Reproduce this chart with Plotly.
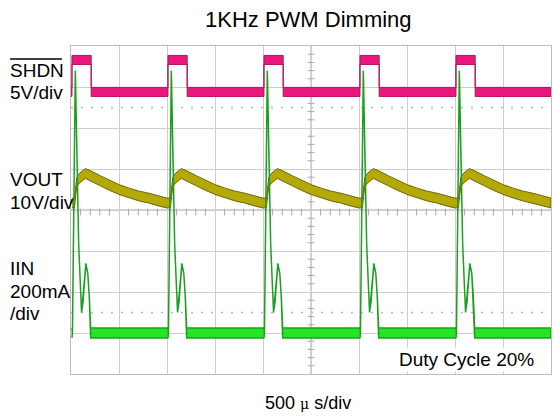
import plotly.graph_objects as go

# ---------------- data ----------------
# time base: 500 us/div, 10 divisions -> 0..5 ms
PULSE_START_MS = [0.01, 1.01, 2.01, 3.01, 4.01]
PULSE_WIDTH_MS = 0.20
T_END_MS = 5.0

# SHDN (5 V/div)
SHDN_SCALE_V = 5.0
SHDN_OFFSET_DIV = 2.88
SHDN_LOW_V = 0.0
SHDN_HIGH_V = 3.9
SHDN_NOISE_V = 0.55

# VOUT (10 V/div) - one PWM period, time relative to SHDN rising edge
VOUT_SCALE_V = 10.0
VOUT_OFFSET_DIV = 0.0
VOUT_T_REL = [0.0, 0.025, 0.05, 0.08, 0.14, 0.20, 0.30, 0.40, 0.50, 0.60, 0.70, 0.80, 0.90, 0.99]
VOUT_V     = [1.7, 1.7,   6.8,  7.8,  8.9,  8.3,  7.1,  5.9,  4.9,  4.1,  3.4,  2.9,  2.2,  1.7]
VOUT_NOISE = [1.2, 1.2,   1.1,  1.2,  1.2,  1.2,  1.2,  1.2,  1.2,  1.2,  1.2,  1.2,  1.2,  1.2]

# IIN (200 mA/div) - one PWM period
IIN_SCALE_MA = 200.0
IIN_OFFSET_DIV = -3.0
IIN_T_REL = [0.0, 0.005, 0.035, 0.05, 0.07, 0.10, 0.115, 0.145, 0.165, 0.18, 0.195, 0.99]
IIN_MA    = [0,   0,     1280,  900,  430,  100,  150,   340,   290,   180,  0,     0]
IIN_NOISE = [24,  0,     0,     0,    0,    0,    0,     0,     0,     0,    24,    24]

TITLE = "1KHz PWM Dimming"
TIME_LABEL = "500 <span style='font-family:DejaVu Serif;font-size:14px'>μ</span> s/div"
NOTE = "Duty Cycle 20%"


def periodic(t_rel, vals, noise):
    t, v, n = [], [], []
    for s in PULSE_START_MS:
        for tr, vv, nn in zip(t_rel, vals, noise):
            tt = s + tr
            if tt <= T_END_MS + 1e-9:
                t.append(tt); v.append(vv); n.append(nn)
    return t, v, n


def shdn_wave():
    t, v = [0.0], [SHDN_LOW_V]
    for s in PULSE_START_MS:
        t += [s, s, s + PULSE_WIDTH_MS, s + PULSE_WIDTH_MS]
        v += [SHDN_LOW_V, SHDN_HIGH_V, SHDN_HIGH_V, SHDN_LOW_V]
    t.append(T_END_MS); v.append(SHDN_LOW_V)
    return t, v, [SHDN_NOISE_V] * len(t)


def band(t, v, n, scale, offset):
    up = [offset + (a + b) / scale for a, b in zip(v, n)]
    lo = [offset + (a - b) / scale for a, b in zip(v, n)]
    return t + t[::-1], up + lo[::-1]


fig = go.Figure()

# dotted level lines
for yl in (2.5, -2.5):
    fig.add_shape(type="line", x0=0, x1=5, y0=yl, y1=yl, xref="x", yref="y",
                  line=dict(color="#b5b5b5", width=1.5, dash="2px,8px"), layer="below")
# center lines
fig.add_shape(type="line", x0=2.5, x1=2.5, y0=-4, y1=4, line=dict(color="#aaaaaa", width=1), layer="below")
fig.add_shape(type="line", x0=0, x1=5, y0=0, y1=0, line=dict(color="#aaaaaa", width=1), layer="below")

# minor ticks on center lines
tx = [i * 0.1 for i in range(1, 50) if i % 5]
fig.add_trace(go.Scatter(x=tx, y=[-0.05] * len(tx), mode="markers", hoverinfo="skip",
                         marker=dict(symbol="line-ns", size=5, line=dict(color="#aaaaaa", width=1)),
                         showlegend=False))
ty = [-4 + i * 0.2 for i in range(1, 40) if i % 5]
fig.add_trace(go.Scatter(x=[2.5] * len(ty), y=ty, mode="markers", hoverinfo="skip",
                         marker=dict(symbol="line-ew", size=5, line=dict(color="#aaaaaa", width=1)),
                         showlegend=False))

# SHDN
t, v, n = shdn_wave()
bx, by = band(t, v, n, SHDN_SCALE_V, SHDN_OFFSET_DIV)
fig.add_trace(go.Scatter(x=bx, y=by, mode="lines", fill="toself", fillcolor="#e8187f",
                         line=dict(color="#b0125e", width=1), hoverinfo="skip", showlegend=False))

# VOUT
t, v, n = periodic(VOUT_T_REL, VOUT_V, VOUT_NOISE)
bx, by = band(t, v, n, VOUT_SCALE_V, VOUT_OFFSET_DIV)
fig.add_trace(go.Scatter(x=bx, y=by, mode="lines", fill="toself", fillcolor="#b5a90a",
                         line=dict(color="#6e6700", width=1), hoverinfo="skip", showlegend=False))

# IIN
t, v, n = periodic(IIN_T_REL, IIN_MA, IIN_NOISE)
bx, by = band(t, v, n, IIN_SCALE_MA, IIN_OFFSET_DIV)
fig.add_trace(go.Scatter(x=bx, y=by, mode="lines", fill="toself", fillcolor="#25e425",
                         line=dict(color="#1f9f1f", width=1.5), hoverinfo="skip", showlegend=False))

L, T, W, H = 71, 46, 480, 328


def px(x):
    return (x - L) / W


def py(y):
    return (T + H - y) / H


FONT = "Liberation Sans, Arial, sans-serif"
ann = []


def lab(text, x, y, size=19, xanchor="left", **kw):
    ann.append(dict(text=text, x=px(x), y=py(y), xref="paper", yref="paper", showarrow=False,
                    xanchor=xanchor, yanchor="middle", font=dict(family=FONT, size=size, color="black"), **kw))


lab(TITLE, 308, 19, size=22, xanchor="center")
lab("SHDN", 8, 71)
lab("5V/div", 8, 92)
lab("VOUT", 8, 179)
lab("10V/div", 8, 202)
lab("IIN", 8, 268)
lab("200mA", 8, 291)
lab("/div", 8, 313)
lab(NOTE, 466, 359, xanchor="center", bgcolor="white")
lab(TIME_LABEL, 308, 403, size=18, xanchor="center")

fig.add_shape(type="line", xref="paper", yref="paper", x0=px(10), x1=px(62), y0=py(59), y1=py(59),
              line=dict(color="black", width=1.5))

axis_common = dict(showgrid=True, gridcolor="#cdcdcd", gridwidth=1, zeroline=False,
                   showticklabels=False, ticks="", showline=True, linecolor="#bdbdbd",
                   linewidth=1, mirror=True, fixedrange=True)
fig.update_xaxes(range=[0, 5], dtick=0.5, tick0=0, **axis_common)
fig.update_yaxes(range=[-4, 4], dtick=1, tick0=-4, **axis_common)

fig.update_layout(width=553, height=416, margin=dict(l=L, r=553 - L - W, t=T, b=416 - T - H),
                  paper_bgcolor="white", plot_bgcolor="white", annotations=ann, showlegend=False)

fig.write_html("out.html", config={"displayModeBar": False},
               post_script="document.body.style.margin='0';document.body.style.overflow='hidden';")
